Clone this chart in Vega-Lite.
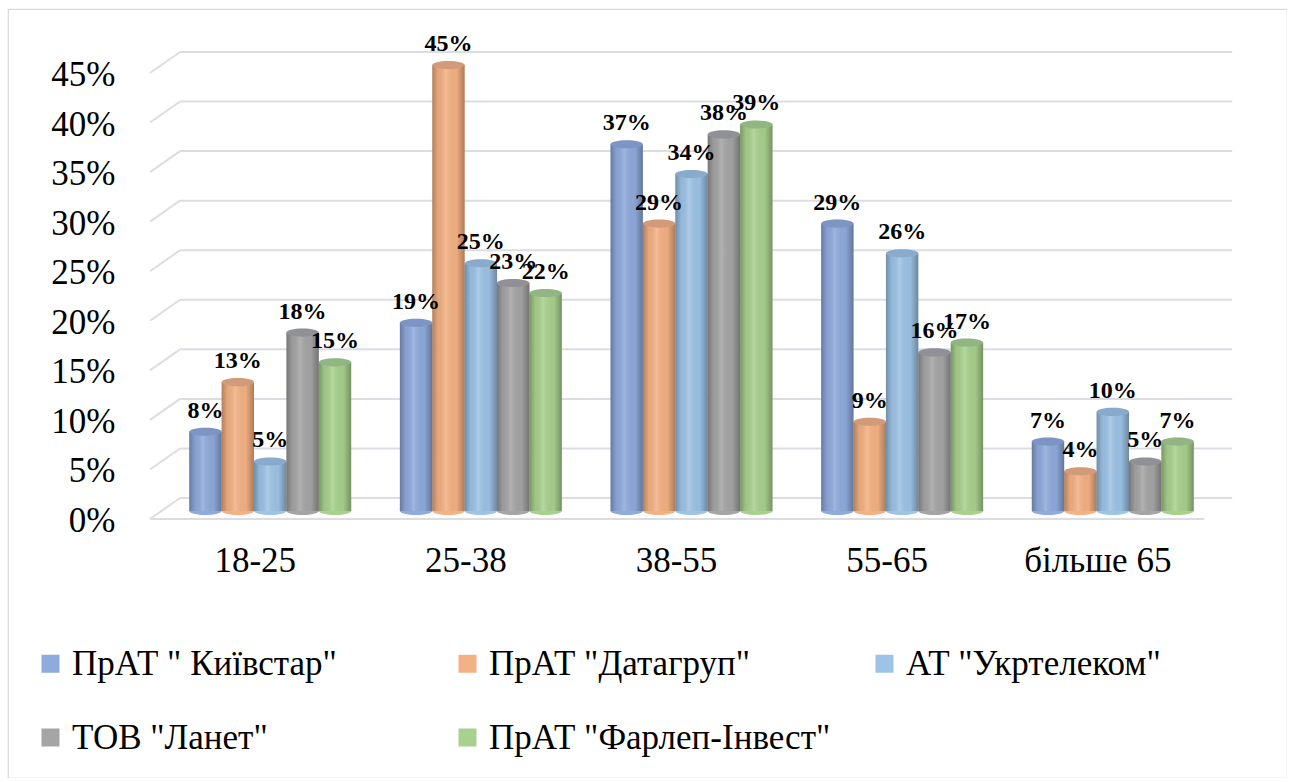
{
  "$schema": "https://vega.github.io/schema/vega-lite/v6.json",
  "width": 1279,
  "height": 769,
  "autosize": {"type": "none"},
  "padding": {"left": 8, "top": 9, "right": 0, "bottom": 0},
  "background": "white",
  "config": {
    "view": {"stroke": "#d9d9d9", "strokeWidth": 1.2},
    "font": "Liberation Serif, Tinos, Times New Roman, serif",
    "numberFormat": ".0%",
    "axisX": {"offset": -267, "domain": false, "ticks": false, "grid": false,
              "labelFont": "Liberation Serif, Tinos, Times New Roman, serif", "labelFontSize": 35, "labelColor": "#000000",
              "labelPadding": 32, "labelOffset": -15, "labelAngle": 0},
    "axisY": {"offset": -110, "domain": false, "ticks": false, "grid": false, "tickCount": 10,
              "labelFont": "Liberation Serif, Tinos, Times New Roman, serif", "labelFontSize": 35, "labelColor": "#000000",
              "labelPadding": 3, "labelOffset": 9.5},
    "legend": {"symbolType": "square", "symbolSize": 324, "symbolStrokeWidth": 0, "symbolOpacity": 1,
               "labelFont": "Liberation Serif, Tinos, Times New Roman, serif", "labelFontSize": 35, "labelColor": "#000000",
               "labelLimit": 800, "padding": 0}
  },
  "datasets": {
    "shares": [
      {"age": "18-25", "operator": "ПрАТ \" Київстар\"", "share": 0.08},
      {"age": "18-25", "operator": "ПрАТ \"Датагруп\"", "share": 0.13},
      {"age": "18-25", "operator": "АТ \"Укртелеком\"", "share": 0.05},
      {"age": "18-25", "operator": "ТОВ \"Ланет\"", "share": 0.18},
      {"age": "18-25", "operator": "ПрАТ \"Фарлеп-Інвест\"", "share": 0.15},
      {"age": "25-38", "operator": "ПрАТ \" Київстар\"", "share": 0.19},
      {"age": "25-38", "operator": "ПрАТ \"Датагруп\"", "share": 0.45},
      {"age": "25-38", "operator": "АТ \"Укртелеком\"", "share": 0.25},
      {"age": "25-38", "operator": "ТОВ \"Ланет\"", "share": 0.23},
      {"age": "25-38", "operator": "ПрАТ \"Фарлеп-Інвест\"", "share": 0.22},
      {"age": "38-55", "operator": "ПрАТ \" Київстар\"", "share": 0.37},
      {"age": "38-55", "operator": "ПрАТ \"Датагруп\"", "share": 0.29},
      {"age": "38-55", "operator": "АТ \"Укртелеком\"", "share": 0.34},
      {"age": "38-55", "operator": "ТОВ \"Ланет\"", "share": 0.38},
      {"age": "38-55", "operator": "ПрАТ \"Фарлеп-Інвест\"", "share": 0.39},
      {"age": "55-65", "operator": "ПрАТ \" Київстар\"", "share": 0.29},
      {"age": "55-65", "operator": "ПрАТ \"Датагруп\"", "share": 0.09},
      {"age": "55-65", "operator": "АТ \"Укртелеком\"", "share": 0.26},
      {"age": "55-65", "operator": "ТОВ \"Ланет\"", "share": 0.16},
      {"age": "55-65", "operator": "ПрАТ \"Фарлеп-Інвест\"", "share": 0.17},
      {"age": "більше 65", "operator": "ПрАТ \" Київстар\"", "share": 0.07},
      {"age": "більше 65", "operator": "ПрАТ \"Датагруп\"", "share": 0.04},
      {"age": "більше 65", "operator": "АТ \"Укртелеком\"", "share": 0.10},
      {"age": "більше 65", "operator": "ТОВ \"Ланет\"", "share": 0.05},
      {"age": "більше 65", "operator": "ПрАТ \"Фарлеп-Інвест\"", "share": 0.07}
    ],
    "ticks": [
      {"tick": 0}, {"tick": 0.05}, {"tick": 0.1}, {"tick": 0.15}, {"tick": 0.2},
      {"tick": 0.25}, {"tick": 0.3}, {"tick": 0.35}, {"tick": 0.4}, {"tick": 0.45}
    ]
  },
  "layer": [
    {
      "description": "back wall gridlines",
      "data": {"name": "ticks"},
      "mark": {"type": "rule", "color": "#dcdde3", "strokeWidth": 2, "xOffset": -90.2, "x2Offset": 119.4, "yOffset": -13},
      "encoding": {
        "x": {"datum": "18-25", "type": "nominal", "title": null,
              "scale": {"type": "band", "domain": ["18-25", "25-38", "38-55", "55-65", "більше 65"], "range": [157, 1210], "paddingInner": 0.231, "paddingOuter": 0.115}},
        "x2": {"datum": "більше 65"},
        "y": {"field": "tick", "type": "quantitative", "title": null,
              "scale": {"domain": [0, 0.45], "range": [502, 56], "nice": false, "zero": true}}
      }
    },
    {
      "description": "floor-to-wall slants of the gridlines",
      "data": {"name": "ticks"},
      "mark": {"type": "rule", "color": "#dcdde3", "strokeWidth": 2, "xOffset": -120.2, "x2Offset": -90.2, "yOffset": 8, "y2Offset": -13},
      "encoding": {
        "x": {"datum": "18-25", "type": "nominal", "title": null},
        "x2": {"datum": "18-25"},
        "y": {"field": "tick", "type": "quantitative", "title": null},
        "y2": {"field": "tick"}
      }
    },
    {
      "description": "front edge of the floor",
      "data": {"name": "ticks"},
      "transform": [{"filter": "datum.tick === 0"}],
      "mark": {"type": "rule", "color": "#dcdde3", "strokeWidth": 2, "xOffset": -120.2, "x2Offset": 91.4, "yOffset": 8},
      "encoding": {
        "x": {"datum": "18-25", "type": "nominal", "title": null},
        "x2": {"datum": "більше 65"},
        "y": {"field": "tick", "type": "quantitative", "title": null}
      }
    },
    {
      "description": "rounded cylinder bases",
      "data": {"name": "shares"},
      "mark": {"type": "point", "shape": "M-1,0A1,0.25 0 1,1 1,0A1,0.25 0 1,1 -1,0Z", "size": 1050, "filled": true, "opacity": 1, "strokeWidth": 0},
      "encoding": {
        "x": {"field": "age", "type": "nominal", "title": null, "sort": null},
        "xOffset": {"field": "operator", "type": "nominal", "sort": null},
        "y": {"datum": 0, "type": "quantitative", "title": null},
        "color": {"field": "operator", "type": "nominal", "sort": null}
      }
    },
    {
      "description": "cylinder bodies",
      "data": {"name": "shares"},
      "mark": {"type": "bar", "strokeWidth": 0},
      "encoding": {
        "x": {"field": "age", "type": "nominal", "sort": null, "title": null},
        "xOffset": {"field": "operator", "type": "nominal", "sort": null,
                    "scale": {"domain": ["ПрАТ \" Київстар\"", "ПрАТ \"Датагруп\"", "АТ \"Укртелеком\"", "ТОВ \"Ланет\"", "ПрАТ \"Фарлеп-Інвест\""], "paddingInner": 0, "paddingOuter": 0}},
        "y": {"field": "share", "type": "quantitative", "title": null},
        "color": {"field": "operator", "type": "nominal", "sort": null,
                  "scale": {"domain": ["ПрАТ \" Київстар\"", "ПрАТ \"Датагруп\"", "АТ \"Укртелеком\"", "ТОВ \"Ланет\"", "ПрАТ \"Фарлеп-Інвест\""],
                            "range": ["#8faadc", "#f4b183", "#9dc3e6", "#a5a5a5", "#a9d18e"]},
                  "legend": {"orient": "none", "legendX": 25, "legendY": 637, "direction": "horizontal", "columns": 3,
                             "gridAlign": "all", "columnPadding": 36, "rowPadding": 38, "padding": 0,
                             "symbolType": "square", "symbolSize": 324, "symbolStrokeWidth": 0, "symbolOpacity": 1,
                             "labelFont": "Liberation Serif, Tinos, Times New Roman, serif", "labelFontSize": 35, "labelColor": "#000000",
                             "labelOffset": 4, "labelLimit": 800, "title": null,
                             "encode": {"symbols": {"update": {"shape": {"value": "square"}, "size": {"value": 324}, "strokeWidth": {"value": 0}}}}}}
      }
    },
    {
      "description": "side shading of the cylinder bodies",
      "data": {"name": "shares"},
      "mark": {"type": "bar", "strokeWidth": 0,
               "color": {"gradient": "linear", "x1": 0, "x2": 1, "y1": 0, "y2": 0,
                         "stops": [
                           {"offset": 0, "color": "rgba(0,0,0,0.28)"},
                           {"offset": 0.18, "color": "rgba(0,0,0,0.06)"},
                           {"offset": 0.42, "color": "rgba(255,255,255,0.14)"},
                           {"offset": 0.75, "color": "rgba(0,0,0,0.03)"},
                           {"offset": 1, "color": "rgba(0,0,0,0.3)"}
                         ]}},
      "encoding": {
        "x": {"field": "age", "type": "nominal", "sort": null, "title": null},
        "xOffset": {"field": "operator", "type": "nominal", "sort": null},
        "y": {"field": "share", "type": "quantitative", "title": null}
      }
    },
    {
      "description": "cylinder tops",
      "data": {"name": "shares"},
      "mark": {"type": "point", "shape": "M-1,0A1,0.25 0 1,1 1,0A1,0.25 0 1,1 -1,0Z", "size": 1050, "filled": true, "opacity": 1, "strokeWidth": 0},
      "encoding": {
        "x": {"field": "age", "type": "nominal", "sort": null, "title": null},
        "xOffset": {"field": "operator", "type": "nominal", "sort": null},
        "y": {"field": "share", "type": "quantitative", "title": null},
        "color": {"field": "operator", "type": "nominal", "sort": null}
      }
    },
    {
      "description": "darker tint on the cylinder tops",
      "data": {"name": "shares"},
      "mark": {"type": "point", "shape": "M-1,0A1,0.25 0 1,1 1,0A1,0.25 0 1,1 -1,0Z", "size": 1050, "filled": true, "color": "#1f2d4a", "opacity": 0.16, "strokeWidth": 0},
      "encoding": {
        "x": {"field": "age", "type": "nominal", "sort": null, "title": null},
        "xOffset": {"field": "operator", "type": "nominal", "sort": null},
        "y": {"field": "share", "type": "quantitative", "title": null}
      }
    },
    {
      "description": "value labels",
      "data": {"name": "shares"},
      "mark": {"type": "text", "font": "Liberation Serif, Tinos, Times New Roman, serif", "fontWeight": "bold", "fontSize": 24, "color": "#000000", "baseline": "middle", "dy": -21},
      "encoding": {
        "x": {"field": "age", "type": "nominal", "sort": null, "title": null},
        "xOffset": {"field": "operator", "type": "nominal", "sort": null},
        "y": {"field": "share", "type": "quantitative", "title": null},
        "text": {"field": "share", "type": "quantitative", "format": ".0%"}
      }
    }
  ]
}
